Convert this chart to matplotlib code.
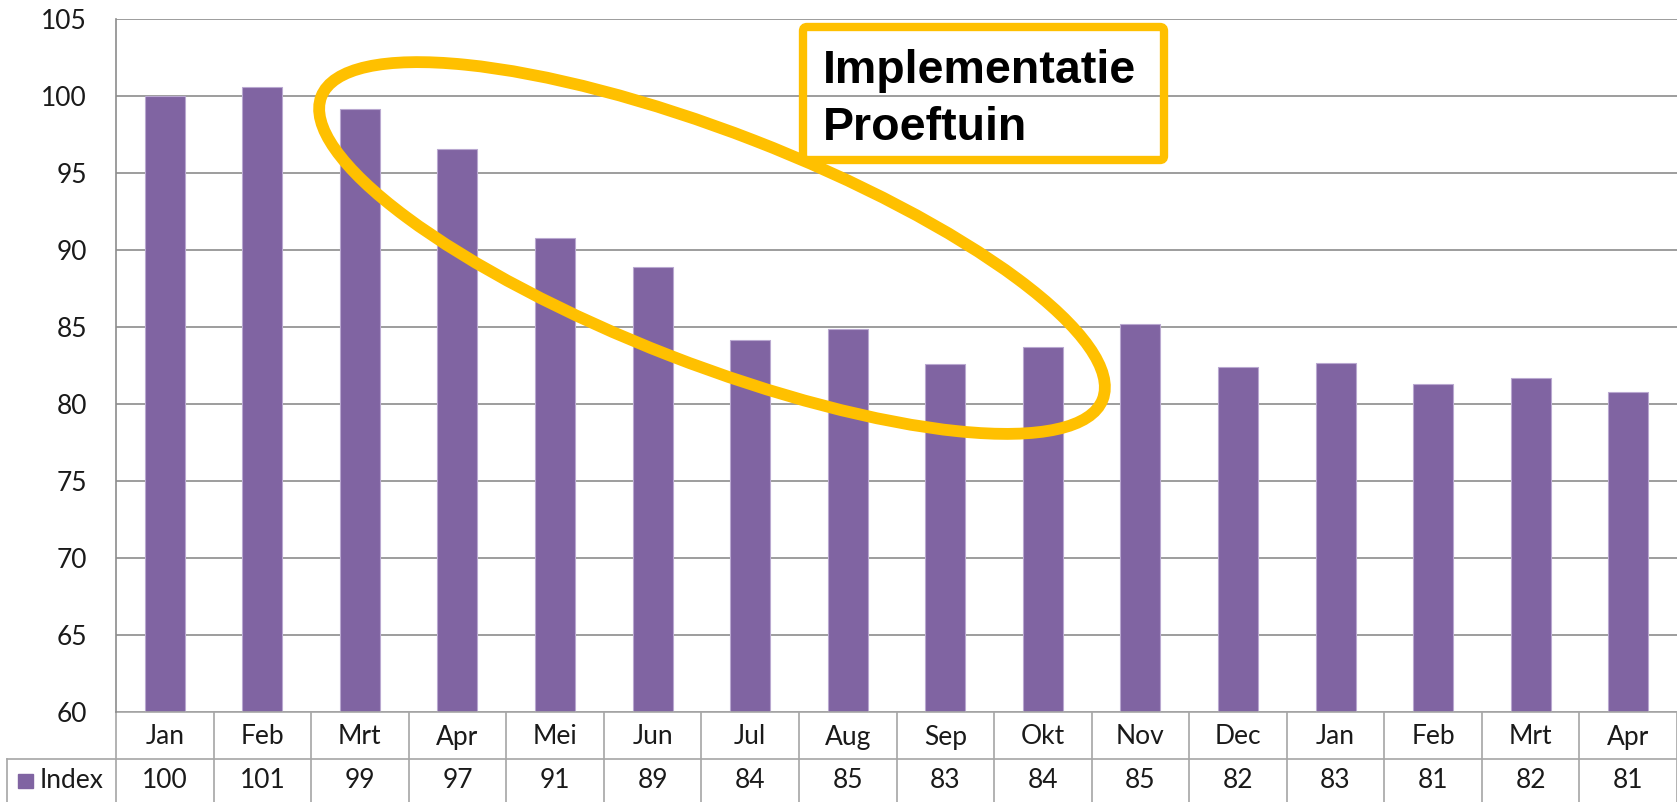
import matplotlib
matplotlib.use('Agg')
import matplotlib.pyplot as plt
from matplotlib.patches import Ellipse, FancyBboxPatch, Rectangle
from matplotlib.lines import Line2D
from matplotlib.transforms import blended_transform_factory

months = ['Jan', 'Feb', 'Mrt', 'Apr', 'Mei', 'Jun', 'Jul', 'Aug',
          'Sep', 'Okt', 'Nov', 'Dec', 'Jan', 'Feb', 'Mrt', 'Apr']
index_values = [100.0, 100.6, 99.2, 96.6, 90.8, 88.9, 84.2, 84.9,
                82.6, 83.7, 85.2, 82.4, 82.7, 81.3, 81.7, 80.8]
series_name = 'Index'
yticks = [60, 65, 70, 75, 80, 85, 90, 95, 100, 105]
note_lines = ['Implementatie', 'Proeftuin']

bar_color = '#8064A2'
gold = '#FFC000'
grid_color = '#8C8C8C'
table_color = '#A6A6A6'
text_color = '#1A1A1A'
font = 'Lato'
fsize = 19

W, H = 1677, 802
fig = plt.figure(figsize=(W / 100, H / 100), dpi=100)
px = fig.dpi_scale_trans

# plot area in pixel coords of the reference
left, top, bottom = 116, 19.3, 712.3
ax = fig.add_axes([left / W, (H - bottom) / H, (W - left) / W, (bottom - top) / H])

x = list(range(len(months)))
ax.bar(x, index_values, width=0.41, color=bar_color, edgecolor='#B9A8D0', linewidth=0.8, zorder=2)
ax.set_xlim(-0.5, len(months) - 0.5)
ax.set_ylim(60, 105)
ax.set_yticks(yticks)
ax.set_yticklabels([str(t) for t in yticks], fontsize=fsize, family=font, color=text_color)
ax.tick_params(axis='y', length=0, pad=21)
ax.set_xticks([])
ax.grid(axis='y', color=grid_color, linewidth=1.2, zorder=0)
for s in ['top', 'right', 'bottom']:
    ax.spines[s].set_visible(False)
ax.spines['left'].set_color(grid_color)
ax.spines['left'].set_linewidth(1.2)


def ay(py):
    return (bottom - py) / (bottom - top)


# data table under the chart
tr = blended_transform_factory(ax.transData, ax.transAxes)
row_mid = 759
for k in range(len(months) + 1):
    ax.add_line(Line2D([k - 0.5, k - 0.5], [ay(H + 5), 0], transform=tr,
                       color=table_color, linewidth=1.2, clip_on=False))
ax.add_line(Line2D([-0.5, len(months) - 0.5], [0, 0], transform=tr,
                   color=table_color, linewidth=1.2, clip_on=False))
fig.add_artist(Line2D([7 / 100, W / 100], [(H - row_mid) / 100] * 2, transform=px,
                      color=table_color, linewidth=1.2))
fig.add_artist(Line2D([7 / 100, 7 / 100], [(H - row_mid) / 100, 0], transform=px,
                      color=table_color, linewidth=1.2))

for i, (m, v) in enumerate(zip(months, index_values)):
    ax.text(i, ay(737), m, transform=tr, ha='center', va='center',
            fontsize=fsize, family=font, color=text_color, clip_on=False)
    ax.text(i, ay(781), f'{v:.0f}', transform=tr, ha='center', va='center',
            fontsize=fsize, family=font, color=text_color, clip_on=False)

fig.add_artist(Rectangle((18 / 100, (H - 788) / 100), 15 / 100, 14 / 100,
                         transform=px, color=bar_color))
fig.text(40 / 100, (H - 781) / 100, series_name, transform=px, ha='left', va='center',
         fontsize=fsize, family=font, color=text_color)

# highlight ellipse and note box
fig.add_artist(Ellipse((712 / 100, (H - 248) / 100), 8.38, 2.31, angle=-21.2,
                       transform=px, fill=False, edgecolor=gold, linewidth=8.5))
fig.add_artist(FancyBboxPatch((803 / 100, (H - 160) / 100), 361 / 100, 133 / 100,
                              boxstyle='round,pad=0,rounding_size=0.04', transform=px,
                              fill=False, edgecolor=gold, linewidth=6))
fig.text(823 / 100, (H - 83) / 100, note_lines[0], transform=px, ha='left', va='baseline',
         fontsize=33.5, fontweight='bold', family='Liberation Sans', color='black')
fig.text(823 / 100, (H - 140) / 100, note_lines[1], transform=px, ha='left', va='baseline',
         fontsize=33.5, fontweight='bold', family='Liberation Sans', color='black')

fig.savefig('out.png', dpi=100)
